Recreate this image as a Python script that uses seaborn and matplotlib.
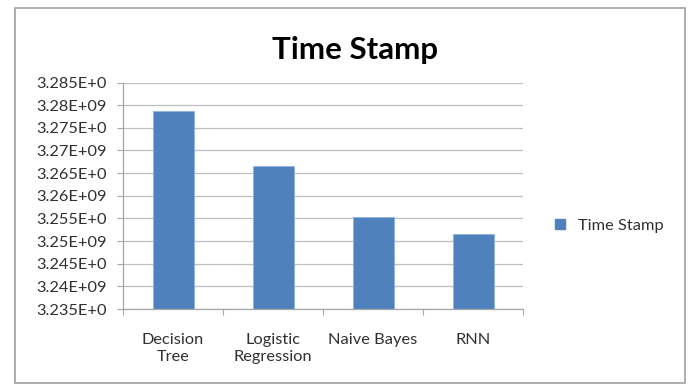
import matplotlib
matplotlib.use("Agg")
import matplotlib.pyplot as plt
import matplotlib.patches as mpatches
import seaborn as sns
import pandas as pd

# Chart data
categories = ["Decision\nTree", "Logistic\nRegression", "Naive Bayes", "RNN"]
time_stamp = [3.2787e9, 3.2665e9, 3.2554e9, 3.2515e9]
y_ticks = [3.235e9, 3.240e9, 3.245e9, 3.250e9, 3.255e9, 3.260e9,
           3.265e9, 3.270e9, 3.275e9, 3.280e9, 3.285e9]
y_tick_labels = ["3.235E+0", "3.24E+09", "3.245E+0", "3.25E+09", "3.255E+0",
                 "3.26E+09", "3.265E+0", "3.27E+09", "3.275E+0", "3.28E+09",
                 "3.285E+0"]
series_name = "Time Stamp"

df = pd.DataFrame({"model": categories, "value": time_stamp})

sns.set_theme(style="white")
plt.rcParams["font.family"] = ["Lato", "DejaVu Sans"]

bar_color = "#4F81BD"
grid_color = "#BFBFBF"
text_color = "#303030"
label_size = 11.8

fig = plt.figure(figsize=(6.91, 3.85), dpi=100)
ax = fig.add_axes([123 / 691, 1 - 309 / 385, 400 / 691, (309 - 82.5) / 385])

sns.barplot(data=df, x="model", y="value", color=bar_color, width=0.41,
            saturation=1, edgecolor="#8DB3E2", linewidth=0.6, ax=ax)

ax.set_ylim(y_ticks[0], y_ticks[-1])
ax.set_xlim(-0.5, len(categories) - 0.5)
ax.set_yticks(y_ticks)
ax.set_yticklabels(y_tick_labels, fontsize=label_size, color=text_color)
ax.set_xticks(range(len(categories)))
ax.set_xticklabels(categories, fontsize=label_size, color=text_color,
                   linespacing=1.3)
ax.set_xlabel("")
ax.set_ylabel("")

# Horizontal gridlines behind bars
ax.set_axisbelow(True)
ax.yaxis.grid(True, color=grid_color, linewidth=0.9)
ax.xaxis.grid(False)

for side in ["top", "right"]:
    ax.spines[side].set_visible(False)
for side in ["left", "bottom"]:
    ax.spines[side].set_color("#A6A6A6")
    ax.spines[side].set_linewidth(0.9)

# Outward tick marks: on the y axis at each value, on the x axis between categories
ax.tick_params(axis="y", which="major", left=True, length=4, width=0.8,
               color="#A6A6A6", pad=8)
ax.tick_params(axis="x", which="major", bottom=False, pad=11)
ax.set_xticks([i + 0.5 for i in range(-1, len(categories))], minor=True)
ax.tick_params(axis="x", which="minor", bottom=True, length=4, width=0.8,
               color="#A6A6A6")

fig.text(355 / 691, 1 - 50 / 385, series_name, ha="center", va="center",
         fontsize=22.5, fontweight="bold", color="black")

handle = mpatches.Patch(color=bar_color, label=series_name)
fig.legend(handles=[handle], loc="center left",
           bbox_to_anchor=(540 / 691, 1 - 226 / 385), frameon=False,
           fontsize=label_size, handlelength=0.6, handleheight=0.6,
           handletextpad=0.8, labelcolor=text_color)

# Chart area border
border = mpatches.Rectangle((15 / 691, 2 / 385), 670 / 691, 375 / 385,
                            transform=fig.transFigure, fill=False,
                            edgecolor="#A0A0A0", linewidth=1.2)
fig.add_artist(border)

fig.savefig("out.png", dpi=100, facecolor="white")
